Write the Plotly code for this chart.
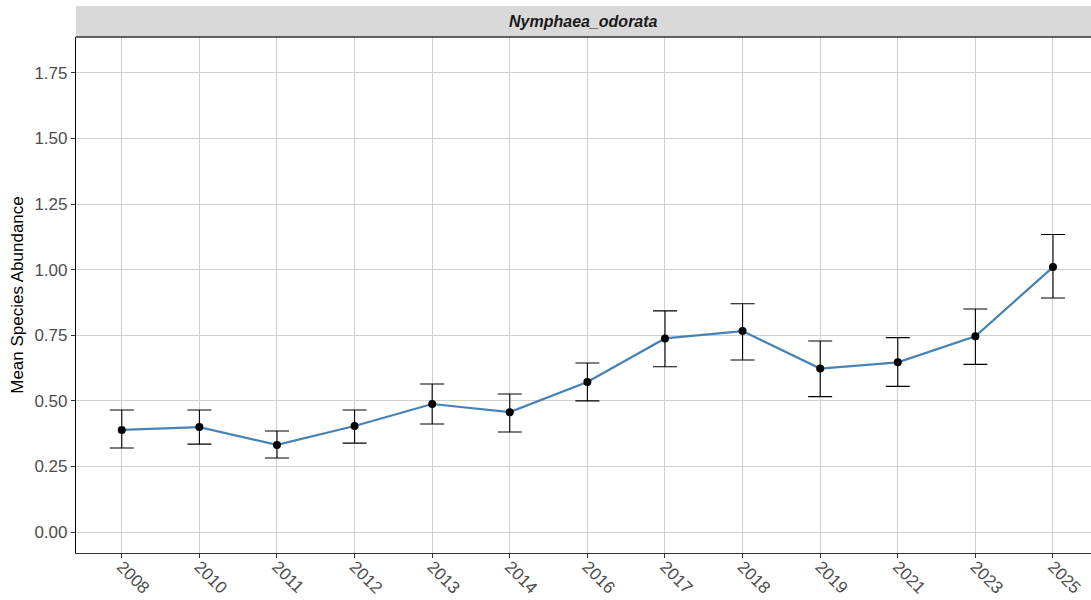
import plotly.graph_objects as go

years = ["2008", "2010", "2011", "2012", "2013", "2014", "2016", "2017", "2018", "2019", "2021", "2023", "2025"]
mean_abund = [0.389, 0.400, 0.332, 0.404, 0.488, 0.457, 0.572, 0.738, 0.766, 0.623, 0.647, 0.746, 1.010]
upper = [0.465, 0.465, 0.385, 0.465, 0.564, 0.526, 0.644, 0.843, 0.870, 0.728, 0.741, 0.850, 1.134]
lower = [0.320, 0.335, 0.282, 0.339, 0.412, 0.381, 0.500, 0.630, 0.656, 0.516, 0.555, 0.639, 0.892]
y_ticks = [0.0, 0.25, 0.5, 0.75, 1.0, 1.25, 1.5, 1.75]
y_tick_labels = ["0.00", "0.25", "0.50", "0.75", "1.00", "1.25", "1.50", "1.75"]
species = "Nymphaea_odorata"

err_plus = [u - m for u, m in zip(upper, mean_abund)]
err_minus = [m - l for m, l in zip(mean_abund, lower)]

fig = go.Figure()
fig.add_trace(go.Scatter(
    x=years, y=mean_abund, mode="lines",
    line=dict(color="#4682B4", width=2.2),
    showlegend=False, hoverinfo="skip",
))
fig.add_trace(go.Scatter(
    x=years, y=mean_abund, mode="markers",
    marker=dict(color="black", size=8),
    error_y=dict(type="data", symmetric=False, array=err_plus, arrayminus=err_minus,
                 color="black", thickness=1.1, width=12),
    showlegend=False,
))

font_family = "Liberation Sans, Arial, sans-serif"
strip_h = 31 / 516

fig.update_layout(
    width=1091, height=600,
    margin=dict(l=76, r=0, t=37, b=47, pad=0),
    paper_bgcolor="white", plot_bgcolor="white",
    font=dict(family=font_family),
    xaxis=dict(
        type="category", range=[-0.59, 12.49], automargin=False,
        showgrid=True, gridcolor="#cfcfcf", gridwidth=1,
        showline=True, linecolor="#333333", linewidth=1.2,
        ticks="outside", ticklen=4, tickcolor="#333333",
        tickangle=45, tickfont=dict(size=17, color="#4d4d4d", family=font_family),
        ticklabelstandoff=-8,
        zeroline=False,
    ),
    yaxis=dict(
        range=[-0.080, 1.887], automargin=False,
        tickvals=y_ticks, ticktext=y_tick_labels,
        showgrid=True, gridcolor="#cfcfcf", gridwidth=1,
        showline=True, linecolor="#000000", linewidth=1.2,
        ticks="outside", ticklen=4, tickcolor="#333333",
        tickfont=dict(size=17, color="#4d4d4d", family=font_family),
        title=dict(text="Mean Species Abundance", font=dict(size=17, color="black", family=font_family), standoff=6),
        zeroline=False,
    ),
    shapes=[
        dict(type="rect", xref="paper", yref="paper", x0=0, x1=1, y0=1, y1=1 + strip_h,
             fillcolor="#d9d9d9", line=dict(width=0), layer="above"),
        dict(type="line", xref="paper", yref="paper", x0=0, x1=1, y0=1, y1=1,
             line=dict(color="#333333", width=1.5)),
    ],
    annotations=[
        dict(text="<b><i>" + species + "</i></b>", xref="paper", yref="paper",
             x=0.5, y=1 + strip_h / 2, showarrow=False, xanchor="center", yanchor="middle",
             font=dict(size=16, color="#1a1a1a", family=font_family)),
    ],
)

fig.write_html("out.html", config={"displayModeBar": False},
               post_script="document.body.style.margin='0px';")
